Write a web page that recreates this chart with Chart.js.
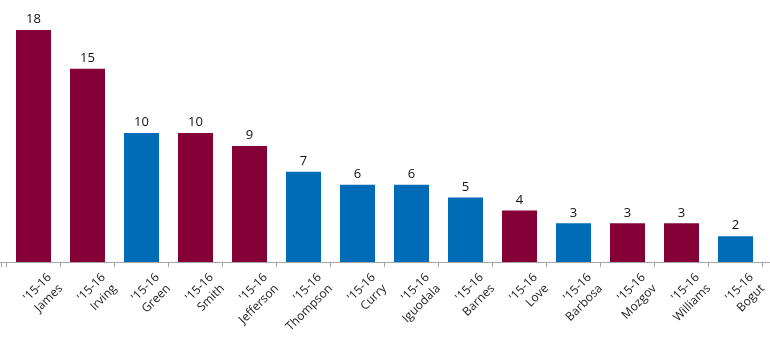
<!DOCTYPE html>
<html>
<head>
<meta charset="utf-8">
<script src="https://cdn.jsdelivr.net/npm/chart.js@4.4.1/dist/chart.umd.min.js"></script>
<style>
html,body{margin:0;padding:0;background:#fff;}
#wrap{width:770px;height:353px;position:relative;}
</style>
</head>
<body>
<div id="wrap"><canvas id="c" width="770" height="353"></canvas></div>
<script>
const season = "'15-16";
const players = ['James','Irving','Green','Smith','Jefferson','Thompson','Curry','Iguodala','Barnes','Love','Barbosa','Mozgov','Williams','Bogut'];
const teams = ['CLE','CLE','GSW','CLE','CLE','GSW','GSW','GSW','GSW','CLE','GSW','CLE','CLE','GSW'];
const values = [18,15,10,10,9,7,6,6,5,4,3,3,3,2];
const teamColors = {CLE:'#860038', GSW:'#006BB6'};

const labels = players.map(p => [season, p]);

const valueLabels = {
  id:'valueLabels',
  afterDatasetsDraw(chart){
    const ctx = chart.ctx;
    const meta = chart.getDatasetMeta(0);
    ctx.save();
    ctx.font = '13px "Open Sans"';
    ctx.fillStyle = '#111';
    ctx.textAlign = 'center';
    ctx.textBaseline = 'bottom';
    meta.data.forEach((bar,i)=>{
      ctx.fillText(String(chart.data.datasets[0].data[i]), bar.x, bar.y - 4);
    });
    ctx.restore();
  }
};
const axisExt = {
  id:'axisExt',
  afterDraw(chart){
    const ctx = chart.ctx;
    const y = Math.round(chart.chartArea.bottom) + 0.5;
    ctx.save();
    ctx.strokeStyle = '#a6a6a6';
    ctx.lineWidth = 1;
    ctx.beginPath();
    ctx.moveTo(0, y); ctx.lineTo(chart.width, y);
    ctx.moveTo(1.5, y); ctx.lineTo(1.5, y + 5);
    ctx.stroke();
    ctx.restore();
  }
};

new Chart(document.getElementById('c'), {
  type:'bar',
  data:{
    labels: labels,
    datasets:[{
      data: values,
      backgroundColor: teams.map(t => teamColors[t]),
      borderWidth: 0,
      categoryPercentage: 1,
      barPercentage: 35/54
    }]
  },
  options:{
    responsive:false,
    animation:false,
    devicePixelRatio:1,
    layout:{padding:{top:30,left:6.5,right:7.5,bottom:0}},
    plugins:{legend:{display:false},tooltip:{enabled:false}},
    scales:{
      x:{
        offset:true,
        grid:{display:true,drawOnChartArea:false,drawTicks:true,tickLength:5,color:'#a6a6a6'},
        border:{display:true,color:'#a6a6a6'},
        ticks:{
          minRotation:45,maxRotation:45,autoSkip:false,
          padding:3,labelOffset:16,
          color:'#222',
          font:{family:'"Open Sans"',size:12,lineHeight:1.3}
        },
        afterFit(s){ s.height = 91; s.paddingLeft = 0; s.paddingRight = 0; }
      },
      y:{display:false,min:0,max:18}
    }
  },
  plugins:[valueLabels, axisExt]
});
</script>
</body>
</html>
